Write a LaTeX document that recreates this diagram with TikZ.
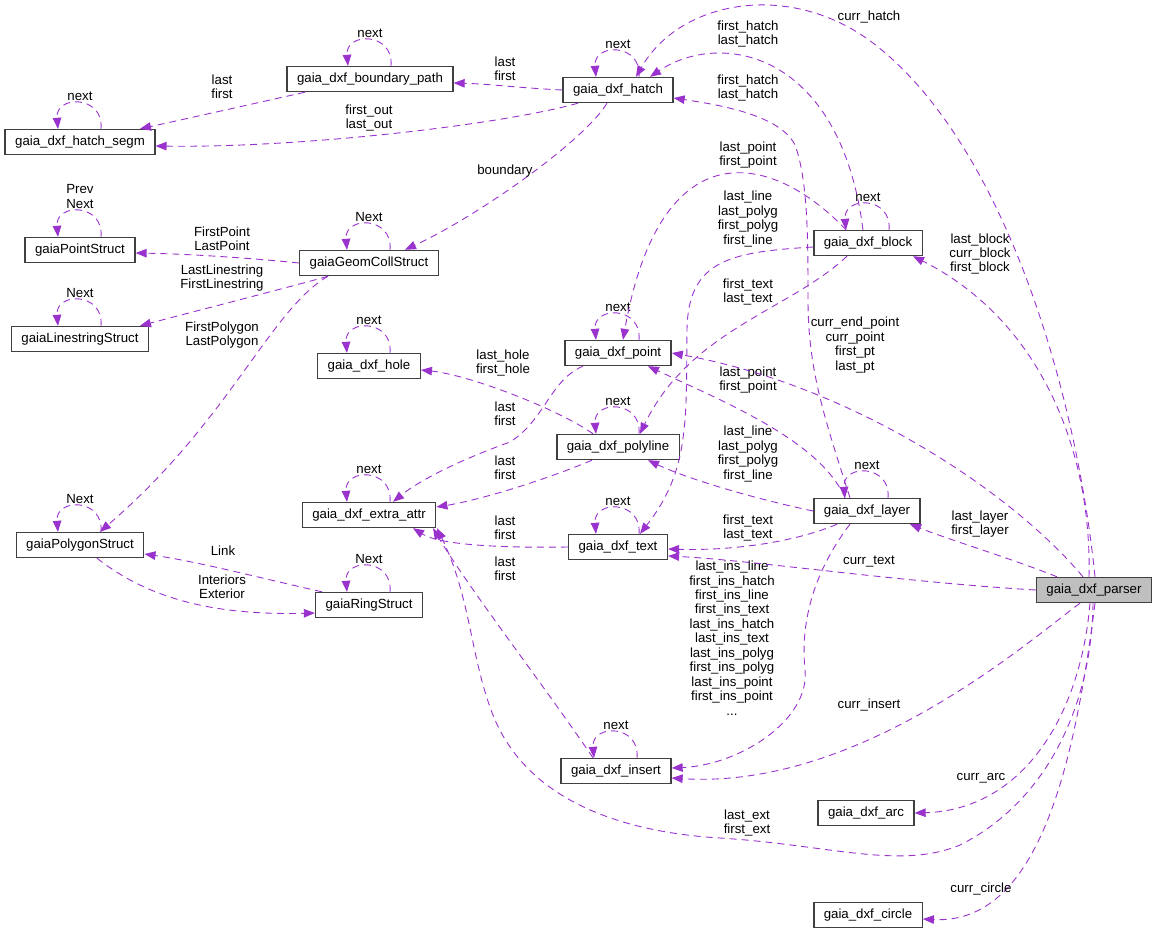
\documentclass[tikz,border=0pt]{standalone}
\usepackage{fontspec}
\setmainfont{Liberation Sans}
\usetikzlibrary{arrows.meta,positioning,calc}
\definecolor{EdgePurple}{HTML}{9A32CD}
\definecolor{BoxGray}{HTML}{BFBFBF}
\tikzset{box/.style={draw=black!75,line width=1.4bp,fill=white,minimum height=25bp,inner xsep=10bp,inner ysep=2bp,font=\fontsize{13.3}{14.5}\selectfont},
rel/.style={-{Triangle[length=11bp,width=8.5bp]},EdgePurple,line width=0.9bp,dash pattern=on 7bp off 5bp},
lbl/.style={align=center,inner sep=0pt,font=\fontsize{13.3}{14.5}\selectfont,text=black}}
\begin{document}
\begin{tikzpicture}[x=1bp,y=-1bp]
\useasboundingbox (0,0) rectangle (1157,934);
\node[box] (bpath) at (370,79) {gaia\_dxf\_boundary\_path};
\node[box] (hatch) at (618,90) {gaia\_dxf\_hatch};
\node[box] (segm) at (80,142) {gaia\_dxf\_hatch\_segm};
\node[box] (pstruct) at (80,250) {gaiaPointStruct};
\node[box] (geom) at (369,263) {gaiaGeomCollStruct};
\node[box] (lstruct) at (80,339) {gaiaLinestringStruct};
\node[box] (block) at (868,243) {gaia\_dxf\_block};
\node[box] (point) at (618,353) {gaia\_dxf\_point};
\node[box] (hole) at (369,366) {gaia\_dxf\_hole};
\node[box] (polyline) at (618,447) {gaia\_dxf\_polyline};
\node[box] (extra) at (369,515) {gaia\_dxf\_extra\_attr};
\node[box] (layer) at (867,511) {gaia\_dxf\_layer};
\node[box] (polygon) at (80,545) {gaiaPolygonStruct};
\node[box] (text) at (618,547) {gaia\_dxf\_text};
\node[box] (ring) at (369,605) {gaiaRingStruct};
\node[box,fill=BoxGray] (parser) at (1094,590) {gaia\_dxf\_parser};
\node[box] (insert) at (616,771) {gaia\_dxf\_insert};
\node[box] (arc) at (866,813) {gaia\_dxf\_arc};
\node[box] (circle) at (868,915) {gaia\_dxf\_circle};
% self references
\foreach \n/\t in {bpath/next,segm/next,hatch/next,pstruct/{Prev\\Next},geom/Next,lstruct/Next,polygon/Next,ring/Next,hole/next,extra/next,point/next,polyline/next,text/next,insert/next,block/next,layer/next}
  \draw[rel] ([xshift=21bp]\n.north) .. controls +(3,-34) and +(-3,-34) .. ([xshift=-22bp]\n.north) node[lbl,anchor=south] at ([yshift=28bp]\n.north) {\t};
% left part
\draw[rel] ([xshift=-65bp]bpath.south) .. controls (270,100) and (190,118) .. ([xshift=60bp]segm.north) node[lbl] at (222,87) {last\\first};
\draw[rel] (hatch.west) .. controls (520,88) and (490,84) .. ([yshift=-4bp]bpath.east) node[lbl] at (505,69) {last\\first};
\draw[rel] ([xshift=-40bp]hatch.south) .. controls (500,125) and (300,148) .. ([yshift=-4bp]segm.east) node[lbl] at (369,118) {first\_out\\last\_out};
\draw[rel] ([xshift=-11bp]hatch.south) .. controls (585,140) and (480,215) .. ([xshift=36bp]geom.north) node[lbl] at (505,171) {boundary};
\draw[rel] (geom.west) .. controls (250,258) and (190,254) .. ([yshift=-3bp]pstruct.east) node[lbl] at (222,239) {FirstPoint\\LastPoint};
\draw[rel] ([xshift=-41bp]geom.south) .. controls (305,283) and (200,310) .. ([xshift=60bp]lstruct.north) node[lbl] at (222,278) {LastLinestring\\FirstLinestring};
\draw[rel] ([xshift=-41bp]geom.south) .. controls (270,310) and (230,420) .. ([xshift=20bp]polygon.north) node[lbl] at (222,335) {FirstPolygon\\LastPolygon};
\draw[rel] ([xshift=-47bp]ring.north) .. controls (260,578) and (200,562) .. ([yshift=-9bp]polygon.east) node[lbl] at (223,551) {Link};
\draw[rel] ([xshift=17bp]polygon.south) .. controls (140,592) and (200,616) .. ([yshift=-8bp]ring.west) node[lbl] at (222,587) {Interiors\\Exterior};
\draw[rel] ([xshift=-25bp]polyline.north) .. controls (560,410) and (470,375) .. ([yshift=-4bp]hole.east) node[lbl] at (503,363) {last\_hole\\first\_hole};
\draw[rel] ([xshift=-35bp]point.south) .. controls (550,380) and (545,420) .. (510,442) .. controls (460,460) and (420,480) .. ([xshift=24bp]extra.north) node[lbl] at (505,414) {last\\first};
\draw[rel] ([xshift=-26bp]polyline.south) .. controls (545,480) and (480,500) .. ([yshift=8bp]extra.east) node[lbl] at (505,468) {last\\first};
\draw[rel] (text.west) .. controls (500,548) and (440,545) .. ([xshift=44bp]extra.south) node[lbl] at (505,528) {last\\first};
\draw[rel] ([xshift=-23bp]insert.north) .. controls (540,680) and (470,590) .. ([xshift=64bp]extra.south) node[lbl] at (505,569) {last\\first};
% block and layer
\draw[rel] ([xshift=-5bp]block.north) .. controls (840,50) and (720,30) .. ([xshift=32bp]hatch.north) node[lbl] at (748,34) {first\_hatch\\last\_hatch};
\draw[rel] ([xshift=-22bp]block.north) .. controls (770,150) and (660,130) .. ([xshift=5bp]point.north) node[lbl] at (748,155) {last\_point\\first\_point};
\draw[rel] ([yshift=-4bp]block.west) .. controls (730,252) and (688,260) .. (687,330) .. controls (686,420) and (690,470) .. ([xshift=22bp]text.north) node[lbl] at (748,292) {first\_text\\last\_text};
\draw[rel] ([xshift=-21bp]block.south) .. controls (790,310) and (690,330) .. ([xshift=22bp]polyline.north) node[lbl] at (748,219) {last\_line\\last\_polyg\\first\_polyg\\first\_line};
\draw[rel] ([xshift=-17bp]layer.north) .. controls (825,420) and (808,370) .. (808,300) .. controls (808,240) and (808,180) .. (795,145) .. controls (780,115) and (720,105) .. ([yshift=-8bp]hatch.east) node[lbl] at (748,88) {first\_hatch\\last\_hatch};
\draw[rel] ([xshift=-22bp]layer.north) .. controls (820,440) and (720,400) .. ([xshift=30bp]point.south) node[lbl] at (748,380) {last\_point\\first\_point};
\draw[rel] (layer.west) .. controls (760,500) and (690,480) .. ([xshift=30bp]polyline.south) node[lbl] at (748,454) {last\_line\\last\_polyg\\first\_polyg\\first\_line};
\draw[rel] ([xshift=-30bp]layer.south) .. controls (800,540) and (740,551) .. ([yshift=-2bp]text.east) node[lbl] at (748,528) {first\_text\\last\_text};
\draw[rel] ([xshift=-17bp]layer.south) .. controls (815,570) and (800,620) .. (805,670) .. controls (810,720) and (740,765) .. ([yshift=3bp]insert.east) node[lbl] at (732,638) {last\_ins\_line\\first\_ins\_hatch\\first\_ins\_line\\first\_ins\_text\\last\_ins\_hatch\\last\_ins\_text\\last\_ins\_polyg\\first\_ins\_polyg\\last\_ins\_point\\first\_ins\_point\\...};
% parser
\draw[rel] ([xshift=1bp]parser.north) .. controls (1075,380) and (1000,140) .. (873,43) .. controls (790,-20) and (680,0) .. ([xshift=18bp]hatch.north) node[lbl] at (869,17) {curr\_hatch};
\draw[rel] ([xshift=-5bp]parser.north) .. controls (1092,450) and (1040,320) .. ([xshift=45bp]block.south) node[lbl] at (980,254) {last\_block\\curr\_block\\first\_block};
\draw[rel] ([xshift=-11bp]parser.north) .. controls (1010,490) and (850,385) .. (point.east) node[lbl] at (855,345) {curr\_end\_point\\curr\_point\\first\_pt\\last\_pt};
\draw[rel] ([xshift=-37bp]parser.north) .. controls (1010,558) and (950,540) .. ([xshift=43bp]layer.south) node[lbl] at (980,524) {last\_layer\\first\_layer};
\draw[rel] (parser.west) .. controls (900,582) and (750,560) .. ([yshift=-9bp]text.east) node[lbl] at (869,562) {curr\_text};
\draw[rel] ([xshift=-14bp]parser.south) .. controls (1030,640) and (860,790) .. ([yshift=-7bp]insert.east) node[lbl] at (869,705) {curr\_insert};
\draw[rel] ([xshift=-4bp]parser.south) .. controls (1080,720) and (1020,810) .. (arc.east) node[lbl] at (981,778) {curr\_arc};
\draw[rel] ([xshift=-1bp]parser.south) .. controls (1092,700) and (1050,800) .. (960,845) .. controls (900,870) and (830,845) .. (720,838) .. controls (620,832) and (530,800) .. (495,720) .. controls (470,660) and (472,600) .. ([xshift=68bp]extra.south) node[lbl] at (747,823) {last\_ext\\first\_ext};
\draw[rel] ([xshift=1bp]parser.south) .. controls (1075,760) and (1040,925) .. ([yshift=-4bp]circle.east) node[lbl] at (981,889) {curr\_circle};
\end{tikzpicture}
\end{document}
